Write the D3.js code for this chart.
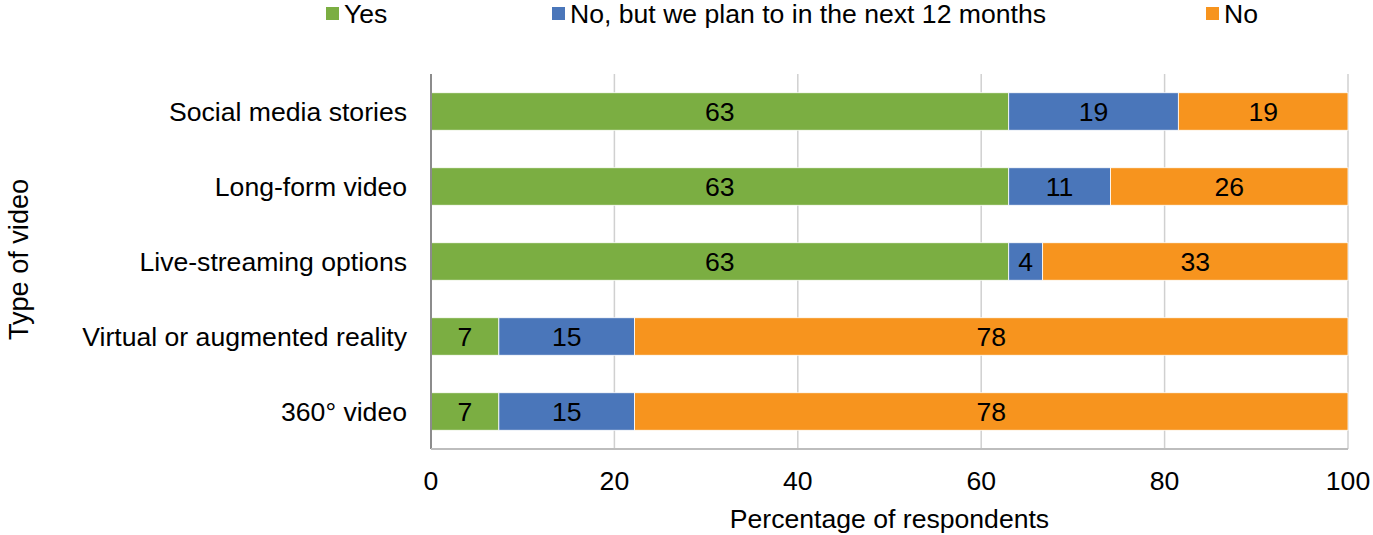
<!DOCTYPE html>
<html>
<head>
<meta charset="utf-8">
<script src="https://cdn.jsdelivr.net/npm/d3@7"></script>
<style>
  body { margin: 0; background: #fff; }
  svg text { font-family: "Liberation Sans", Arial, sans-serif; fill: #000; }
</style>
</head>
<body>
<svg id="chart"></svg>
<script>
// data (percent of respondents)
const categories = ["Social media stories", "Long-form video", "Live-streaming options",
                    "Virtual or augmented reality", "360\u00b0 video"];
const seriesNames = ["Yes", "No, but we plan to in the next 12 months", "No"];
const yesValues  = [63.0, 63.0, 63.0, 7.4, 7.4];
const planValues = [18.5, 11.1, 3.7, 14.8, 14.8];
const noValues   = [18.5, 25.9, 33.3, 77.8, 77.8];
const xTicks = [0, 20, 40, 60, 80, 100];
const colors = ["#7bae42", "#4a76ba", "#f7941e"];

const width = 1373, height = 535;
const margin = { top: 74, right: 25, bottom: 86, left: 431 };
const fs = 26.6;

const svg = d3.select("#chart")
    .attr("width", width)
    .attr("height", height);

const rows = categories.map((c, i) => ({
    cat: c, "Yes": yesValues[i],
    "No, but we plan to in the next 12 months": planValues[i],
    "No": noValues[i]
}));

const stack = d3.stack().keys(seriesNames);
const layers = stack(rows);

const x = d3.scaleLinear().domain([0, 100]).range([margin.left, width - margin.right]);
const y = d3.scaleBand().domain(categories)
    .range([margin.top, height - margin.bottom])
    .paddingInner(0.5).paddingOuter(0.25);

// vertical gridlines
svg.append("g")
    .selectAll("line")
    .data(xTicks.slice(1))
    .enter().append("line")
    .attr("x1", d => x(d)).attr("x2", d => x(d))
    .attr("y1", margin.top).attr("y2", height - margin.bottom)
    .attr("stroke", "#d0d0d0").attr("stroke-width", 1.5);

// bars
const layerG = svg.append("g")
    .selectAll("g")
    .data(layers)
    .enter().append("g")
    .attr("fill", (d, i) => colors[i]);

layerG.selectAll("rect")
    .data(d => d)
    .enter().append("rect")
    .attr("x", d => x(d[0]))
    .attr("y", d => y(d.data.cat))
    .attr("width", d => x(d[1]) - x(d[0]))
    .attr("height", y.bandwidth())
    .attr("stroke", "#fff")
    .attr("stroke-width", 0.8);

// value labels
layerG.selectAll("text")
    .data(d => d)
    .enter().append("text")
    .attr("x", d => (x(d[0]) + x(d[1])) / 2)
    .attr("y", d => y(d.data.cat) + y.bandwidth() / 2)
    .attr("text-anchor", "middle")
    .attr("dominant-baseline", "central")
    .attr("font-size", fs)
    .text(d => Math.round(d[1] - d[0] + 1e-9));

// axes lines
svg.append("line")
    .attr("x1", margin.left).attr("x2", margin.left)
    .attr("y1", margin.top).attr("y2", height - margin.bottom)
    .attr("stroke", "#8c8c8c").attr("stroke-width", 2);
svg.append("line")
    .attr("x1", margin.left).attr("x2", width - margin.right)
    .attr("y1", height - margin.bottom).attr("y2", height - margin.bottom)
    .attr("stroke", "#bdbdbd").attr("stroke-width", 2);

// x tick labels
svg.append("g")
    .selectAll("text")
    .data(xTicks)
    .enter().append("text")
    .attr("x", d => x(d))
    .attr("y", 481)
    .attr("text-anchor", "middle")
    .attr("dominant-baseline", "central")
    .attr("font-size", fs)
    .text(d => d);

// category labels
svg.append("g")
    .selectAll("text")
    .data(categories)
    .enter().append("text")
    .attr("x", 407)
    .attr("y", d => y(d) + y.bandwidth() / 2)
    .attr("text-anchor", "end")
    .attr("dominant-baseline", "central")
    .attr("font-size", fs)
    .text(d => d);

// axis titles
svg.append("text")
    .attr("x", (margin.left + width - margin.right) / 2)
    .attr("y", 519)
    .attr("text-anchor", "middle")
    .attr("dominant-baseline", "central")
    .attr("font-size", fs)
    .text("Percentage of respondents");

svg.append("text")
    .attr("transform", `translate(18, ${(margin.top + height - margin.bottom) / 2 - 2}) rotate(-90)`)
    .attr("text-anchor", "middle")
    .attr("dominant-baseline", "central")
    .attr("font-size", fs + 0.5)
    .text("Type of video");

// legend
const legendX = [326, 552, 1206];
const legend = svg.append("g")
    .selectAll("g")
    .data(seriesNames)
    .enter().append("g")
    .attr("transform", (d, i) => `translate(${legendX[i]}, 14)`);
legend.append("rect")
    .attr("x", 0).attr("y", -7)
    .attr("width", 13).attr("height", 13)
    .attr("fill", (d, i) => colors[i]);
legend.append("text")
    .attr("x", 18).attr("y", 0)
    .attr("dominant-baseline", "central")
    .attr("font-size", fs)
    .text(d => d);
</script>
</body>
</html>
